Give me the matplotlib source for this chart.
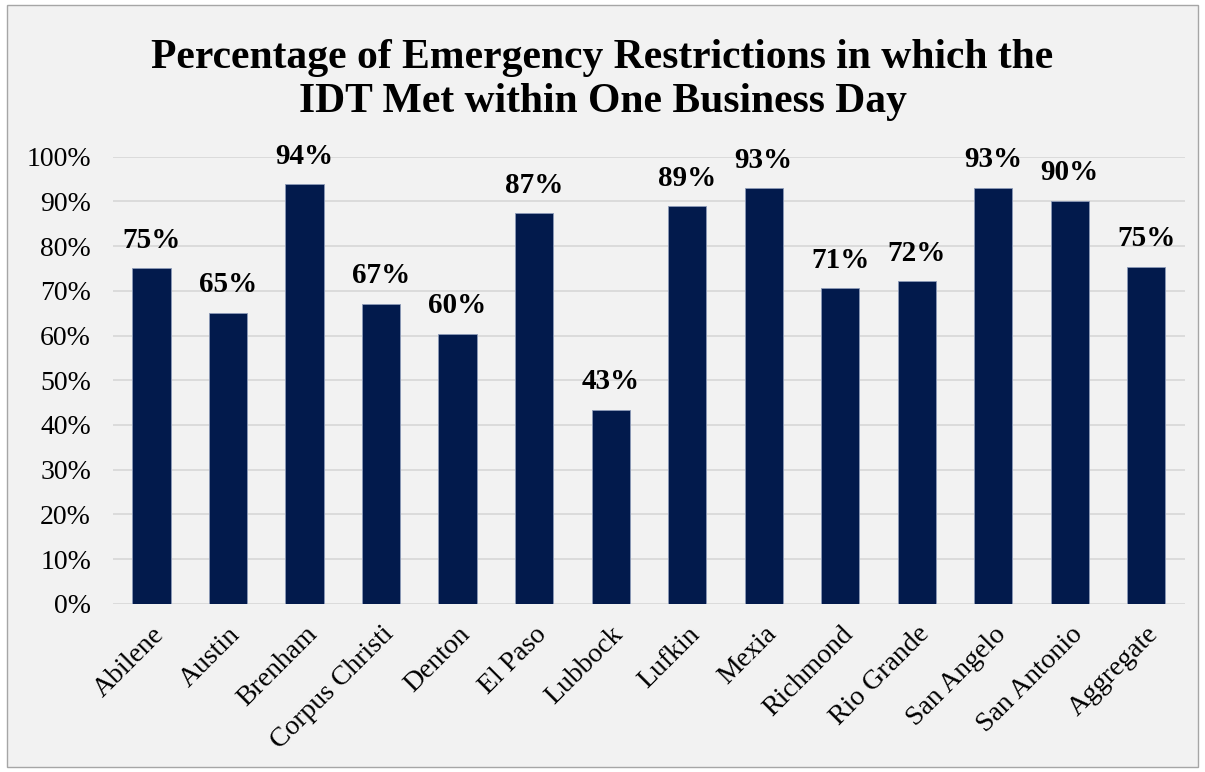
import matplotlib.pyplot as plt
from matplotlib.patches import Rectangle
from matplotlib.ticker import FuncFormatter

# regional values, percent of emergency restrictions with IDT met in one business day
regions = ["Abilene", "Austin", "Brenham", "Corpus Christi", "Denton", "El Paso",
           "Lubbock", "Lufkin", "Mexia", "Richmond", "Rio Grande", "San Angelo",
           "San Antonio", "Aggregate"]
pct = [75.0, 65.1, 93.8, 67.1, 60.4, 87.4, 43.4, 88.9, 92.9, 70.6, 72.2, 93.1, 90.2, 75.4]

plt.rcParams['font.family'] = ['Liberation Serif', 'DejaVu Serif']

fig = plt.figure(figsize=(12.05, 7.72), dpi=100)
fig.patch.set_facecolor('white')

# grey panel with thin border behind everything
panel = Rectangle((0.006, 0.007), 0.988, 0.987, transform=fig.transFigure,
                  facecolor='#f2f2f2', edgecolor='#a6a6a6', lw=1.0, zorder=-10)
fig.patches.append(panel)

ax = fig.add_axes([0.094, 0.218, 0.889, 0.579])
ax.set_facecolor('none')

x = range(len(regions))
bars = ax.bar(x, pct, width=0.5, color='#021a4c', edgecolor='#8c9ab8',
              linewidth=0.6, zorder=3)

for b, v in zip(bars, pct):
    ax.text(b.get_x() + b.get_width() / 2, v + 3.2, f"{v:.0f}%",
            ha='center', va='bottom', fontsize=21, fontweight='bold')

ax.set_xlim(-0.5, len(regions) - 0.5)
ax.set_ylim(0, 100)
ax.set_yticks(range(0, 101, 10))
ax.yaxis.set_major_formatter(FuncFormatter(lambda v, _: f"{v:.0f}%"))
ax.grid(axis='y', color='#d9d9d9', lw=1.3, zorder=0)
ax.set_xticks(list(x))
ax.set_xticklabels(regions, rotation=45, ha='right', rotation_mode='anchor',
                   fontsize=20)
ax.tick_params(axis='y', labelsize=20, length=0, pad=16)
ax.tick_params(axis='x', length=0, pad=13)
for s in ax.spines.values():
    s.set_visible(False)

fig.text(0.5, 0.896, "Percentage of Emergency Restrictions in which the\nIDT Met within One Business Day",
         ha='center', va='center', fontsize=30, fontweight='bold', linespacing=1.2)

fig.savefig('out.png', dpi=100)
